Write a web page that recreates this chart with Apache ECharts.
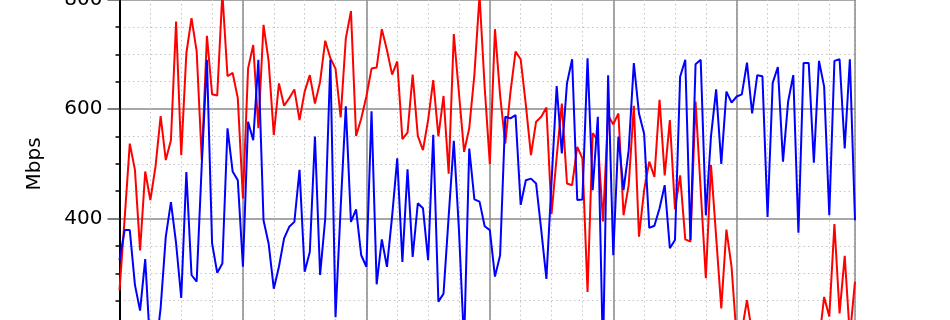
<!DOCTYPE html>
<html>
<head>
<meta charset="utf-8">
<script src="https://cdn.jsdelivr.net/npm/echarts@6/dist/echarts.min.js"></script>
<style>
html,body{margin:0;padding:0;background:#fff;}
#chart{width:950px;height:320px;}
</style>
</head>
<body>
<div id="chart"></div>
<script>
// hourly samples (x index = hour)
const redValues = [
269,400,537,489,342,486,434,495,587,507,543,760,516,702,766,706,507,734,627,625,
812,660,666,620,437,674,717,565,754,687,553,647,606,620,636,580,632,662,610,650,
725,693,674,585,729,779,551,583,623,674,676,746,708,663,687,545,557,663,551,525,
580,653,550,624,482,737,629,522,565,663,808,640,500,746,625,537,630,705,691,608,
516,577,586,603,408,513,610,464,461,531,510,266,556,543,395,589,572,592,406,461,
606,367,452,504,476,617,479,580,417,479,362,358,614,452,291,498,367,236,380,312,
180,195,251,190,170,150,185,160,140,175,155,190,165,145,180,160,175,257,221,390,
227,332,185,285
];
const blueValues = [
324,379,379,279,232,326,160,155,237,367,430,355,255,485,297,285,500,690,355,301,
318,565,486,470,312,577,543,690,397,354,272,312,364,385,394,489,303,339,550,297,
400,690,220,420,605,394,417,333,312,596,280,362,312,404,510,321,490,330,428,419,
324,553,248,263,404,542,379,170,528,435,431,386,379,294,333,586,583,589,425,470,
473,464,379,290,467,642,519,647,691,434,435,693,452,586,150,662,333,550,452,525,
684,592,555,383,387,419,461,346,361,659,690,361,682,690,406,550,636,500,632,612,
623,627,685,592,662,660,403,648,677,504,614,662,374,684,684,502,688,641,406,688,
691,528,691,397
];
const yTicks = [200, 400, 600, 800];
const yLabel = 'Mbps';

const hours = redValues.map((_, i) => i);
const redData = hours.map(h => [h, redValues[h]]);
const blueData = hours.map(h => [h, blueValues[h]]);

const chart = echarts.init(document.getElementById('chart'), null, {renderer: 'canvas'});
const font = 'DejaVu Sans';
const xMax = hours[hours.length - 1];

chart.setOption({
  animation: false,
  backgroundColor: '#ffffff',
  grid: {left: 119.5, top: -0.4, width: 735.5, height: 328.5, containLabel: false, outerBoundsMode: 'none'},
  xAxis: [
    {
      type: 'value', min: 0, max: xMax, interval: 6,
      axisLine: {show: false}, axisTick: {show: false}, axisLabel: {show: false},
      splitLine: {show: true, lineStyle: {color: '#c4c4c4', width: 1, type: [1.5, 3]}}
    },
    {
      type: 'value', min: 0, max: xMax, interval: 24, position: 'bottom',
      axisLine: {show: false}, axisTick: {show: false}, axisLabel: {show: false},
      splitLine: {show: true, lineStyle: {color: '#8a8a8a', width: 1.5}}
    }
  ],
  yAxis: [
    {
      type: 'value', min: yTicks[0], max: yTicks[yTicks.length - 1], interval: 200,
      position: 'left',
      name: yLabel, nameLocation: 'middle', nameGap: 75,
      nameTextStyle: {fontFamily: font, fontSize: 20, color: '#000'},
      axisLine: {show: true, lineStyle: {color: '#000', width: 2}},
      axisTick: {show: true, length: 12, lineStyle: {color: '#555', width: 1.5}},
      minorTick: {show: true, splitNumber: 4, length: 4, lineStyle: {color: '#000', width: 1.5}},
      axisLabel: {fontFamily: font, fontSize: 20, color: '#000', margin: 17, showMinLabel: false},
      splitLine: {show: true, lineStyle: {color: '#8a8a8a', width: 1.5}},
      minorSplitLine: {show: true, lineStyle: {color: '#c4c4c4', width: 1, type: [1.5, 3]}}
    },
    {
      type: 'value', min: yTicks[0], max: yTicks[yTicks.length - 1], interval: 200,
      position: 'right',
      axisLine: {show: true, lineStyle: {color: '#000', width: 2}},
      axisTick: {show: false}, axisLabel: {show: false}, splitLine: {show: false}
    }
  ],
  series: [
    {
      type: 'line', data: redData, xAxisIndex: 0, yAxisIndex: 0,
      showSymbol: false, symbol: 'none', clip: true,
      lineStyle: {color: '#ff0000', width: 2}, itemStyle: {color: '#ff0000'}
    },
    {
      type: 'line', data: blueData, xAxisIndex: 0, yAxisIndex: 0,
      showSymbol: false, symbol: 'none', clip: true,
      lineStyle: {color: '#0000ff', width: 2}, itemStyle: {color: '#0000ff'}
    }
  ]
});
</script>
</body>
</html>
